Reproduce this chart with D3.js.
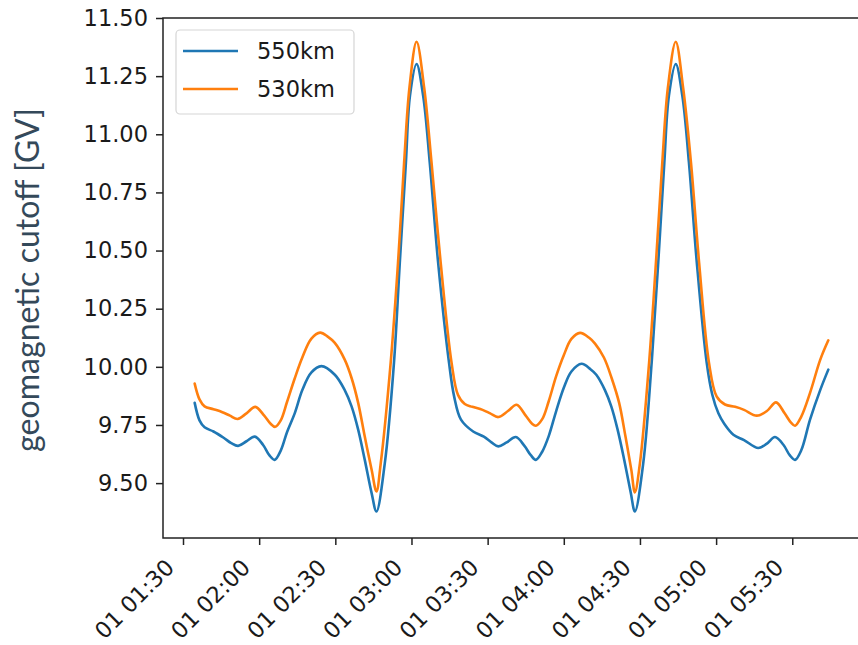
<!DOCTYPE html>
<html>
<head>
<meta charset="utf-8">
<script src="https://cdn.jsdelivr.net/npm/d3@7"></script>
<style>
  html, body { margin: 0; padding: 0; background: #ffffff; }
  svg { display: block; }
</style>
</head>
<body>
<svg id="chart" width="858" height="645"></svg>
<script>
// ---------------- data ----------------
const startTime = "2022-01-01 01:30";          // x offsets are minutes after this time
const seriesNames = ["550km", "530km"];
const seriesColors = ["#1f77b4", "#ff7f0e"];

const minutes550 = [4.6, 6.5, 8.5, 12, 16, 19, 21.7, 25, 28.3, 31.5, 34, 36.1, 38.5, 41, 44, 47, 50.5, 54.5,
  59.8, 63.7, 66.4, 69, 71.6, 74.3, 76.2, 79.5, 83.1, 85.4, 87.8, 89.4, 92.0, 94.6, 97.2, 100.5, 104.8, 106.8, 109.5, 114.3,
  118.5, 121.5, 124.2, 127.5, 131.1, 134.5, 137, 139.0, 141.5, 144, 147, 150, 153, 157.0,
  160.5, 162.8, 166.2, 168.7, 171.2, 173.8, 176.4, 178.0, 181.3, 184.6, 187.2, 189.6, 191.4, 194.1, 196.7, 199.3, 202.4, 206.3, 208.5, 210.9, 213.2,
  216.8, 221, 226.6, 230, 233.2, 236.5, 239, 241.1, 243.5, 247, 251, 254.2];
const cutoff550 = [9.845, 9.77, 9.74, 9.722, 9.695, 9.672, 9.66, 9.68, 9.70, 9.665, 9.62, 9.60, 9.64, 9.72, 9.80, 9.90, 9.975, 10.003,
  9.966, 9.90, 9.83, 9.73, 9.60, 9.457, 9.378, 9.586, 10.017, 10.448, 10.878, 11.165, 11.302, 11.165, 10.878, 10.448, 10.017, 9.873, 9.773, 9.722,
  9.70, 9.675, 9.658, 9.675, 9.698, 9.66, 9.62, 9.60, 9.635, 9.70, 9.81, 9.91, 9.98, 10.013,
  9.99, 9.966, 9.90, 9.83, 9.73, 9.60, 9.457, 9.378, 9.586, 10.017, 10.448, 10.878, 11.165, 11.302, 11.165, 10.878, 10.448, 10.017, 9.88, 9.80, 9.755,
  9.708, 9.685, 9.651, 9.67, 9.698, 9.665, 9.62, 9.60, 9.64, 9.773, 9.90, 9.988];

const minutes530 = [4.6, 6.5, 8.5, 12, 15.5, 18.5, 21.5, 25, 28.5, 32, 34.5, 36.3, 38.5, 41, 44, 47, 50.5, 54, 57,
  59.8, 63.7, 66.4, 69, 71.6, 74.3, 76.2, 77.9, 81.8, 84.7, 87.1, 89.2, 92.0, 95, 97.9, 101.5, 105.8, 108.3, 111, 114,
  118, 121, 124.2, 128, 131.4, 135, 137.5, 139, 141.5, 144, 147, 150, 153, 156.4, 160,
  162.3, 165.8, 168.9, 171.8, 174.3, 176.6, 178, 180, 183.6, 186.3, 188.8, 191, 194.1, 197, 200.1, 203.3, 207.2, 210.2, 213.5, 217.5, 221, 226, 230,
  233.6, 237, 239.5, 241.1, 243.5, 247, 251, 254.2];
const cutoff530 = [9.928, 9.86, 9.83, 9.818, 9.805, 9.79, 9.776, 9.80, 9.828, 9.79, 9.755, 9.742, 9.77, 9.85, 9.95, 10.04, 10.12, 10.147, 10.13,
  10.103, 10.031, 9.952, 9.845, 9.70, 9.557, 9.464, 9.586, 10.017, 10.448, 10.878, 11.2, 11.398, 11.2, 10.878, 10.448, 10.017, 9.88, 9.84, 9.828,
  9.815, 9.80, 9.784, 9.81, 9.837, 9.79, 9.755, 9.747, 9.775, 9.85, 9.96, 10.05, 10.12, 10.146, 10.125,
  10.10, 10.04, 9.95, 9.845, 9.70, 9.557, 9.46, 9.586, 10.017, 10.448, 10.878, 11.2, 11.398, 11.2, 10.878, 10.448, 10.017, 9.873, 9.838, 9.828, 9.815, 9.79, 9.81,
  9.847, 9.80, 9.76, 9.747, 9.785, 9.888, 10.03, 10.114];

const yTickValues = [9.50, 9.75, 10.00, 10.25, 10.50, 10.75, 11.00, 11.25, 11.50];
const yLimits = [9.264, 11.50];
const yLabel = "geomagnetic cutoff [GV]";

// ---------------- layout ----------------
const W = 858, H = 645;
const plot = { left: 163, right: 860, top: 18, bottom: 538 };

const base = d3.utcParse("%Y-%m-%d %H:%M")(startTime);
const toDate = m => new Date(base.getTime() + m * 60000);

const series = [
  { name: seriesNames[0], color: seriesColors[0], pts: minutes550.map((m, i) => [toDate(m), cutoff550[i]]) },
  { name: seriesNames[1], color: seriesColors[1], pts: minutes530.map((m, i) => [toDate(m), cutoff530[i]]) }
];

const allMin = minutes550.concat(minutes530);
const mExt = d3.extent(allMin);
const pad = (mExt[1] - mExt[0]) * 0.05;

const x = d3.scaleUtc()
  .domain([toDate(mExt[0] - pad), toDate(mExt[1] + pad)])
  .range([plot.left, plot.right]);
const y = d3.scaleLinear().domain(yLimits).range([plot.bottom, plot.top]);

const svg = d3.select("#chart");
const fontTick = "DejaVu Sans, sans-serif";

// clip
svg.append("defs").append("clipPath").attr("id", "clip")
  .append("rect").attr("x", plot.left).attr("y", plot.top)
  .attr("width", plot.right - plot.left).attr("height", plot.bottom - plot.top);

// lines
const line = d3.line().x(d => x(d[0])).y(d => y(d[1])).curve(d3.curveCatmullRom.alpha(0.5));
svg.append("g").attr("clip-path", "url(#clip)")
  .selectAll("path").data(series).join("path")
  .attr("d", d => line(d.pts))
  .attr("fill", "none")
  .attr("stroke", d => d.color)
  .attr("stroke-width", 2.6)
  .attr("stroke-linejoin", "round")
  .attr("stroke-linecap", "round");

// y axis
const yAxis = d3.axisLeft(y).tickValues(yTickValues).tickFormat(d3.format(".2f"))
  .tickSize(7).tickPadding(8);
const gy = svg.append("g").attr("transform", `translate(${plot.left},0)`).call(yAxis);
gy.select(".domain").remove();
gy.selectAll(".tick line").attr("stroke", "#222").attr("stroke-width", 1.5);
gy.selectAll(".tick text").attr("fill", "#1a1a1a")
  .style("font-family", fontTick).style("font-size", "22.5px");

// x axis
const xTicks = d3.utcMinute.every(30).range(x.domain()[0], x.domain()[1]);
const xAxis = d3.axisBottom(x).tickValues(xTicks).tickFormat(d3.utcFormat("%d %H:%M"))
  .tickSize(7).tickPadding(0);
const gx = svg.append("g").attr("transform", `translate(0,${plot.bottom})`).call(xAxis);
gx.select(".domain").remove();
gx.selectAll(".tick line").attr("stroke", "#222").attr("stroke-width", 1.5);
gx.selectAll(".tick text")
  .attr("fill", "#1a1a1a")
  .style("font-family", fontTick).style("font-size", "22.5px")
  .attr("text-anchor", "end")
  .attr("dy", null)
  .attr("y", 0)
  .attr("transform", "translate(-8,31) rotate(-45)");

// spines
const spine = svg.append("g").attr("stroke", "#222").attr("stroke-width", 1.5).attr("fill", "none");
spine.append("rect").attr("x", plot.left).attr("y", plot.top)
  .attr("width", plot.right - plot.left).attr("height", plot.bottom - plot.top);

// y label
const yl = svg.append("text")
  .attr("transform", `translate(39,${(108 + 452) / 2}) rotate(-90)`)
  .attr("text-anchor", "middle")
  .attr("fill", "#34495a")
  .style("font-family", "Lato, 'Open Sans', sans-serif")
  .style("font-size", "30px")
  .text(yLabel);
const targetLen = 344;
const len = yl.node().getComputedTextLength();
yl.style("font-size", (30 * targetLen / len).toFixed(2) + "px");

// legend
const lg = svg.append("g");
lg.append("rect").attr("x", 176).attr("y", 30).attr("width", 178).attr("height", 84)
  .attr("rx", 4).attr("fill", "#fff").attr("fill-opacity", 0.8)
  .attr("stroke", "#d5d5d5").attr("stroke-width", 1.2);
series.forEach((s, i) => {
  const yy = 51 + i * 38;
  lg.append("line").attr("x1", 183).attr("x2", 238).attr("y1", yy).attr("y2", yy)
    .attr("stroke", s.color).attr("stroke-width", 2.6);
  lg.append("text").attr("x", 257).attr("y", yy).attr("dy", "0.36em")
    .attr("fill", "#1a1a1a")
    .style("font-family", fontTick).style("font-size", "22.5px")
    .text(s.name);
});
</script>
</body>
</html>
